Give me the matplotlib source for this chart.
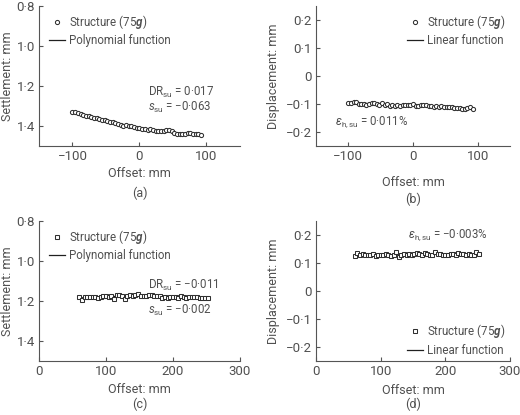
import matplotlib
matplotlib.use("Agg")
import matplotlib.pyplot as plt
import numpy as np
from matplotlib.ticker import FuncFormatter

FONT = "Roboto"
plt.rcParams["font.family"] = [FONT, "DejaVu Sans"]
plt.rcParams["mathtext.fontset"] = "custom"
plt.rcParams["mathtext.rm"] = FONT
plt.rcParams["mathtext.it"] = FONT + ":italic"
plt.rcParams["mathtext.bf"] = FONT + ":bold:italic"

TXT = "#505050"
INK = "#303030"
FS_TICK = 9.5
FS_LAB = 9
FS_NOTE = 8.3

# ---- data ----
offset_ab = list(range(-100, 93, 4))
offset_cd = list(range(60, 253, 4))

settle_a = [1.328, 1.332, 1.336, 1.340, 1.343, 1.348, 1.352, 1.357, 1.362, 1.360,
            1.366, 1.370, 1.372, 1.377, 1.378, 1.380, 1.386, 1.390, 1.393, 1.398,
            1.396, 1.400, 1.402, 1.406, 1.409, 1.412, 1.414, 1.416, 1.418, 1.417,
            1.422, 1.425, 1.424, 1.426, 1.423, 1.420, 1.418, 1.426, 1.433, 1.442,
            1.440, 1.438, 1.440, 1.437, 1.436, 1.438, 1.440, 1.442, 1.447]

disp_b = [-0.095, -0.098, -0.094, -0.092, -0.100, -0.100, -0.101, -0.102, -0.101, -0.095,
          -0.096, -0.099, -0.102, -0.097, -0.103, -0.101, -0.106, -0.104, -0.107, -0.103,
          -0.106, -0.105, -0.104, -0.102, -0.103, -0.101, -0.106, -0.107, -0.104, -0.103,
          -0.105, -0.108, -0.107, -0.110, -0.106, -0.109, -0.108, -0.111, -0.110, -0.109,
          -0.110, -0.113, -0.114, -0.115, -0.117, -0.118, -0.116, -0.111, -0.118]

settle_c = [1.180, 1.195, 1.182, 1.178, 1.180, 1.182, 1.181, 1.183, 1.180, 1.176,
            1.173, 1.178, 1.176, 1.190, 1.172, 1.168, 1.177, 1.190, 1.176, 1.172,
            1.174, 1.170, 1.165, 1.176, 1.174, 1.173, 1.170, 1.171, 1.175, 1.177,
            1.174, 1.186, 1.182, 1.183, 1.181, 1.178, 1.182, 1.183, 1.177, 1.182,
            1.183, 1.180, 1.178, 1.181, 1.182, 1.183, 1.184, 1.187, 1.186]

disp_d = [0.125, 0.135, 0.128, 0.132, 0.127, 0.130, 0.127, 0.131, 0.126, 0.130,
          0.129, 0.128, 0.133, 0.130, 0.126, 0.128, 0.138, 0.122, 0.127, 0.132,
          0.129, 0.134, 0.128, 0.131, 0.136, 0.133, 0.129, 0.137, 0.134, 0.130,
          0.128, 0.140, 0.133, 0.131, 0.130, 0.129, 0.128, 0.131, 0.133, 0.130,
          0.135, 0.133, 0.131, 0.128, 0.134, 0.130, 0.129, 0.139, 0.134]


def dot_fmt(v, pos):
    if abs(v) < 1e-9:
        return "0"
    if abs(v) >= 10:
        s = f"{v:.0f}"
    else:
        s = f"{v:.1f}"
    return s.replace(".", "\u00b7").replace("-", "\u2212")


def style(ax, xlim, xticks, ylim, yticks, ylabel, letter, xlab_dy, let_dy, ylab_dx):
    # offsets are in pixels measured from the spines
    w_px = ax.get_position().width * 520
    h_px = ax.get_position().height * 415
    for s in ("top", "right"):
        ax.spines[s].set_visible(False)
    for s in ("left", "bottom"):
        ax.spines[s].set_color("#555555")
        ax.spines[s].set_linewidth(0.8)
    ax.set_xlim(*xlim)
    ax.set_ylim(*ylim)
    ax.set_xticks(xticks)
    ax.set_yticks(yticks)
    ax.xaxis.set_major_formatter(FuncFormatter(dot_fmt))
    ax.yaxis.set_major_formatter(FuncFormatter(dot_fmt))
    ax.tick_params(direction="in", length=3, width=0.8, colors="#555555",
                   labelcolor=TXT, labelsize=FS_TICK, pad=3)
    ax.set_xlabel("Offset: mm", color=TXT, fontsize=FS_LAB)
    ax.xaxis.set_label_coords(0.5, -xlab_dy / h_px)
    ax.xaxis.label.set_va("center")
    ax.set_ylabel(ylabel, color=TXT, fontsize=FS_LAB)
    ax.yaxis.set_label_coords(-ylab_dx / w_px, 0.5)
    ax.yaxis.label.set_va("center")
    ax.text(0.5, -let_dy / h_px, letter, transform=ax.transAxes, ha="center",
            va="center", color=TXT, fontsize=FS_LAB)


def series(ax, x, y, marker, deg, fit_label):
    ax.plot(x, y, linestyle="none", marker=marker, markersize=3.0,
            markerfacecolor="white", markeredgecolor=INK, markeredgewidth=0.75,
            label="Structure (75$\\mathbf{g}$)", zorder=3)
    coef = np.polyfit(x, y, deg)
    xs = np.linspace(min(x), max(x), 200)
    ax.plot(xs, np.polyval(coef, xs), color="#202020", linewidth=0.9,
            label=fit_label, zorder=2)


def legend(ax, loc, anchor):
    leg = ax.legend(loc=loc, bbox_to_anchor=anchor, frameon=False, fontsize=FS_NOTE,
                    handlelength=1.4, handletextpad=0.35, labelspacing=0.3,
                    borderpad=0, borderaxespad=0, numpoints=1)
    for t in leg.get_texts():
        t.set_color(TXT)


fig = plt.figure(figsize=(5.2, 4.15), dpi=100)

ax_a = fig.add_axes([0.075, 0.6482, 0.3865, 0.3373])
ax_b = fig.add_axes([0.6077, 0.6482, 0.3731, 0.3373])
ax_c = fig.add_axes([0.075, 0.1301, 0.3865, 0.3373])
ax_d = fig.add_axes([0.6077, 0.1301, 0.3731, 0.3373])

# (a)
series(ax_a, offset_ab, settle_a, "o", 3, "Polynomial function")
style(ax_a, (-150, 150), [-100, 0, 100], (1.5, 0.8), [0.8, 1.0, 1.2, 1.4],
      "Settlement: mm", "(a)", 28, 47, 31)
legend(ax_a, "upper left", (0.05, 0.95))
ax_a.text(12, 1.232, "DR$_{\\mathrm{su}}$ = 0\u00b7017", color=TXT, fontsize=FS_NOTE,
          va="center")
ax_a.text(12, 1.307, "$s_{\\mathrm{su}}$ = \u22120\u00b7063", color=TXT,
          fontsize=FS_NOTE, va="center")

# (b)
series(ax_b, offset_ab, disp_b, "o", 1, "Linear function")
style(ax_b, (-150, 150), [-100, 0, 100], (-0.25, 0.25), [-0.2, -0.1, 0, 0.1, 0.2],
      "Displacement: mm", "(b)", 37, 53, 43)
legend(ax_b, "upper left", (0.47, 0.95))
ax_b.text(-121, -0.163, "$\\varepsilon_{\\mathrm{h,su}}$ = 0\u00b7011%", color=TXT,
          fontsize=FS_NOTE, va="center")

# (c)
series(ax_c, offset_cd, settle_c, "s", 2, "Polynomial function")
style(ax_c, (0, 300), [0, 100, 200, 300], (1.5, 0.8), [0.8, 1.0, 1.2, 1.4],
      "Settlement: mm", "(c)", 28, 43, 31)
legend(ax_c, "upper left", (0.05, 0.95))
ax_c.text(162, 1.12, "DR$_{\\mathrm{su}}$ = \u22120\u00b7011", color=TXT,
          fontsize=FS_NOTE, va="center")
ax_c.text(162, 1.245, "$s_{\\mathrm{su}}$ = \u22120\u00b7002", color=TXT,
          fontsize=FS_NOTE, va="center")

# (d)
series(ax_d, offset_cd, disp_d, "s", 1, "Linear function")
style(ax_d, (0, 300), [0, 100, 200, 300], (-0.25, 0.25), [-0.2, -0.1, 0, 0.1, 0.2],
      "Displacement: mm", "(d)", 29, 43, 43)
legend(ax_d, "lower left", (0.47, 0.03))
ax_d.text(142, 0.2, "$\\varepsilon_{\\mathrm{h,su}}$ = \u22120\u00b7003%", color=TXT,
          fontsize=FS_NOTE, va="center")

fig.savefig("out.png", dpi=100)
